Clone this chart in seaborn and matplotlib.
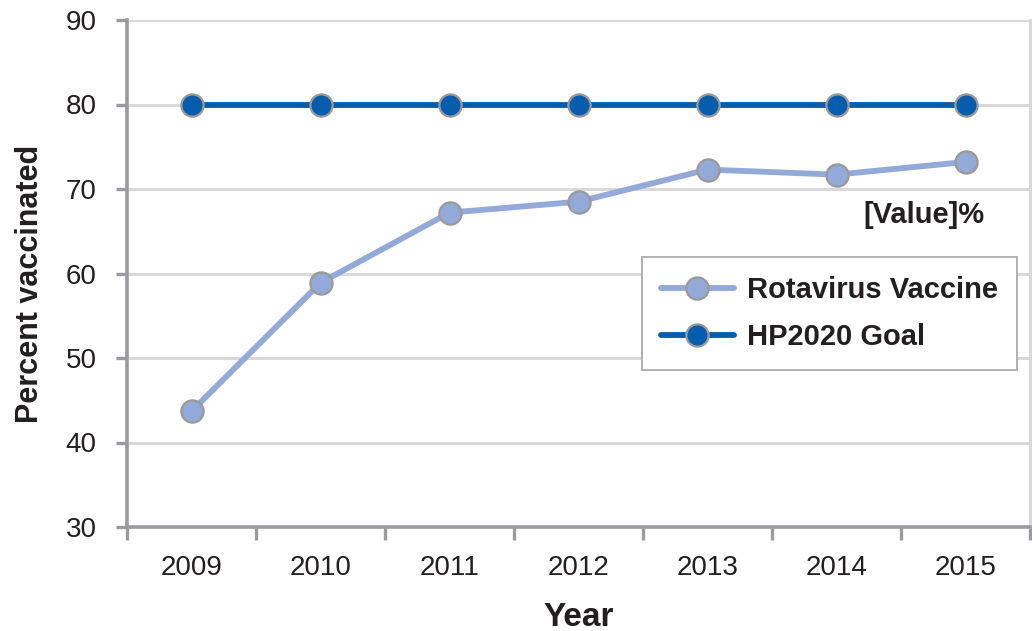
import matplotlib
matplotlib.use("Agg")
import matplotlib.pyplot as plt
import seaborn as sns
import pandas as pd
import numpy as np

# Data
years = ["2009", "2010", "2011", "2012", "2013", "2014", "2015"]
rotavirus = [43.7, 58.9, 67.2, 68.5, 72.3, 71.7, 73.2]
hp2020_goal = [80, 80, 80, 80, 80, 80, 80]
y_ticks = [30, 40, 50, 60, 70, 80, 90]

sns.set_theme(style="white")
plt.rcParams["font.family"] = ["Liberation Sans", "DejaVu Sans"]

light_blue = "#93A9D8"
dark_blue = "#075DAD"
edge_grey = "#9A9A9A"
axis_grey = "#9B9B9F"
grid_grey = "#D9D9D9"
text_col = "#231F20"

fig = plt.figure(figsize=(10.32, 6.31), dpi=100)
ax = fig.add_axes([127 / 1032, 1 - 527 / 631, (1030 - 127) / 1032, (527 - 20) / 631])

pos = np.arange(len(years))
df = pd.DataFrame({"pos": pos, "rota": rotavirus, "goal": hp2020_goal})

sns.lineplot(data=df, x="pos", y="goal", ax=ax, color=dark_blue, linewidth=4.2,
             marker="o", markersize=16, markeredgecolor=edge_grey,
             markeredgewidth=1.6, label="HP2020 Goal", zorder=4)
sns.lineplot(data=df, x="pos", y="rota", ax=ax, color=light_blue, linewidth=4.2,
             marker="o", markersize=16, markeredgecolor=edge_grey,
             markeredgewidth=1.6, label="Rotavirus Vaccine", zorder=4)

ax.set_xlim(-0.5, len(years) - 0.5)
ax.set_ylim(30, 90)
ax.set_yticks(y_ticks)
ax.set_xticks(pos)
ax.set_xticklabels(years)
ax.set_xticks(np.arange(-0.5, len(years)), minor=True)

ax.yaxis.grid(True, color=grid_grey, linewidth=2.2, zorder=0)
ax.set_axisbelow(True)

for side in ["left", "bottom"]:
    ax.spines[side].set_color(axis_grey)
    ax.spines[side].set_linewidth(2.6)
ax.spines["right"].set_color(grid_grey)
ax.spines["right"].set_linewidth(2.2)
ax.spines["top"].set_visible(False)

ax.tick_params(axis="y", which="major", length=8, width=2.4, color=axis_grey,
               direction="out", left=True, labelsize=20, labelcolor=text_col, pad=14)
ax.tick_params(axis="x", which="major", length=0, labelsize=20,
               labelcolor=text_col, pad=20)
ax.tick_params(axis="x", which="minor", length=9, width=2.4, color=axis_grey,
               direction="out", bottom=True)

ax.set_xlabel("Year", fontsize=24, fontweight="bold", color=text_col, labelpad=15)
ax.set_ylabel("Percent vaccinated", fontsize=22, fontweight="bold", color=text_col)
ax.yaxis.set_label_coords(-0.091, 0.48)

ax.text(6.15, 66.9, "[Value]%", ha="right", va="center", fontsize=21,
        fontweight="bold", color=text_col)

handles, labels = ax.get_legend_handles_labels()
order = [labels.index("Rotavirus Vaccine"), labels.index("HP2020 Goal")]
leg = ax.legend([handles[i] for i in order], [labels[i] for i in order],
                loc="upper left", bbox_to_anchor=((642 - 127) / 903, (527 - 257) / 507),
                frameon=True, fancybox=False, framealpha=1, edgecolor="#B0B0B0",
                prop={"weight": "bold", "size": 21}, handlelength=2.5,
                borderpad=0.65, labelspacing=0.65, handletextpad=0.45,
                borderaxespad=0)
leg.get_frame().set_linewidth(1.4)
for t in leg.get_texts():
    t.set_color(text_col)

fig.savefig("out.png", dpi=100)
